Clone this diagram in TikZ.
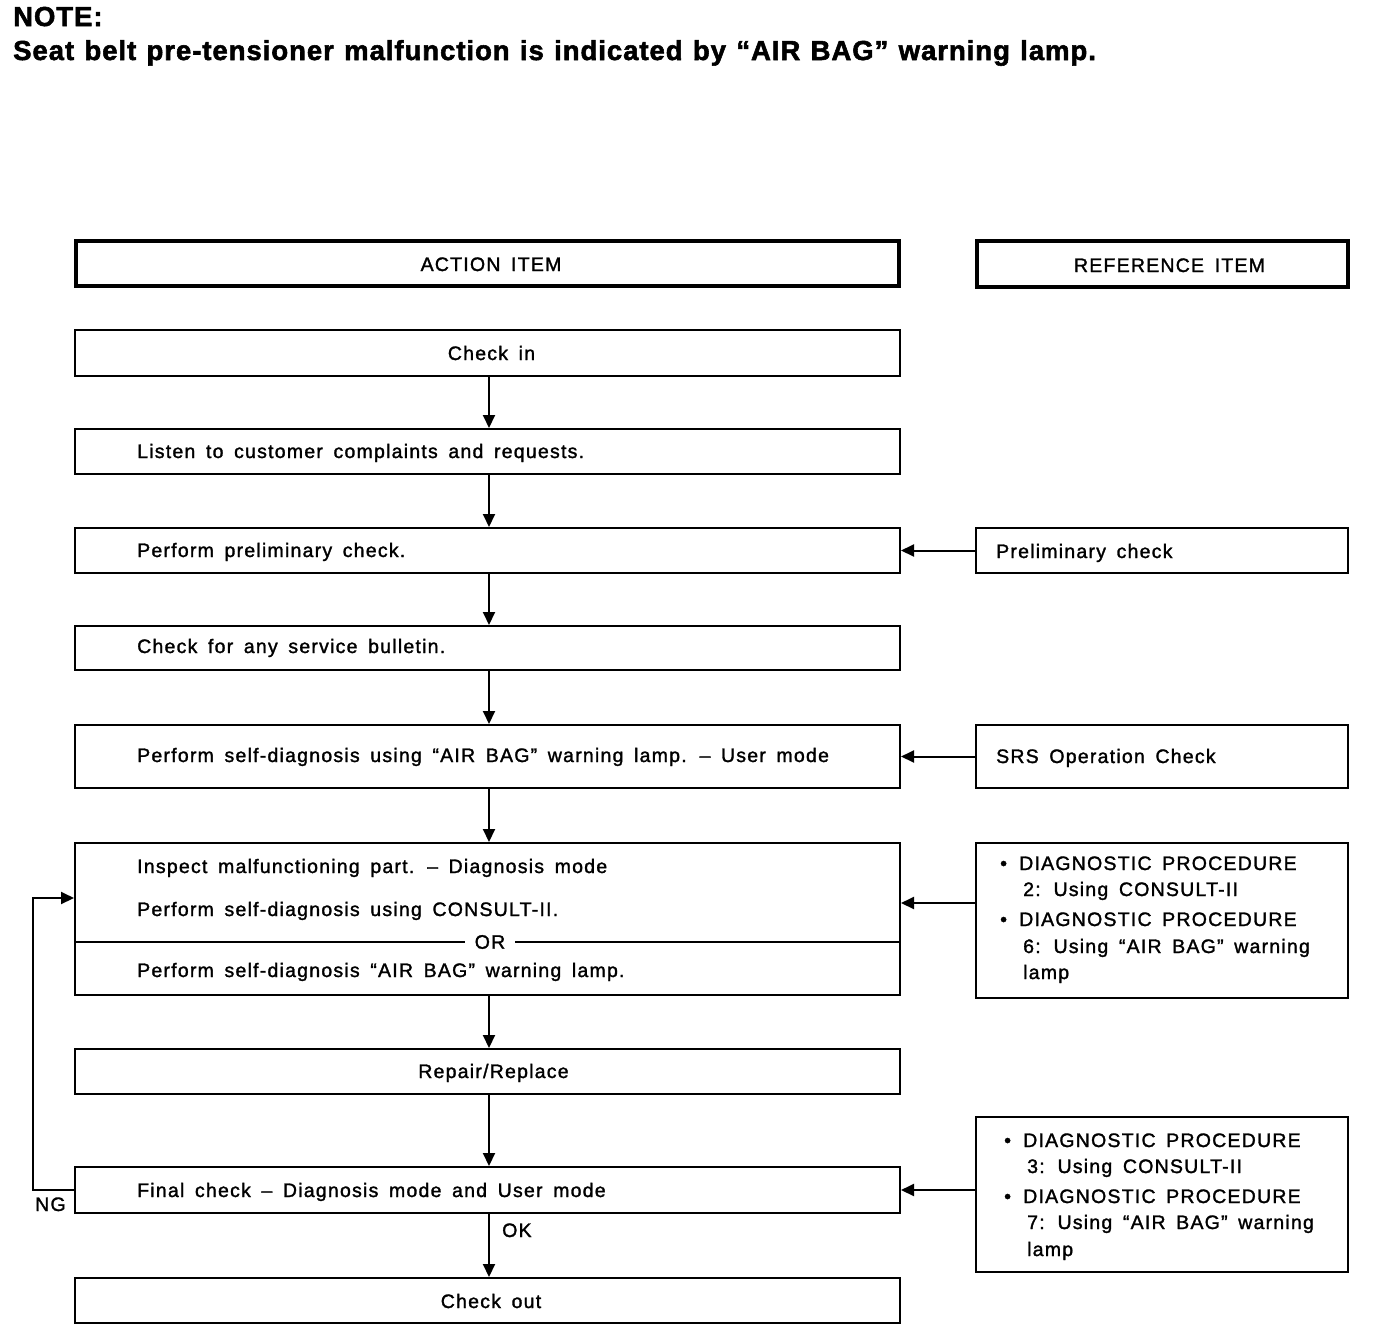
\documentclass[tikz,border=0pt]{standalone}
\usepackage{fontspec}
\setmainfont{Liberation Sans}[LetterSpace=6.3, WordSpace=1.6, FakeBold=1.5]
\newfontfamily\titlefont{Liberation Sans}[LetterSpace=3.5, WordSpace=1.2, FakeBold=2]
\usetikzlibrary{arrows.meta}
\newcommand{\fsz}{\fontsize{19.5}{26.5}\selectfont}
\tikzset{
  box/.style={draw, line width=2pt, inner sep=0pt, minimum width=825pt},
  rbox/.style={draw, line width=2pt, inner sep=0pt, minimum width=372pt},
  hdr/.style={draw, line width=4pt, inner sep=0pt},
  txt/.style={inner sep=0pt, anchor=base west, font=\fsz},
  ctxt/.style={inner sep=0pt, anchor=base, font=\fsz},
  ttl/.style={inner sep=0pt, anchor=base west, font=\titlefont\bfseries\fontsize{27.5}{33}\selectfont},
  arr/.style={line width=2pt, -{Triangle[length=13pt,width=12pt]}},
  every node/.style={font=\fsz}
}
\begin{document}
\begin{tikzpicture}[x=1pt,y=-1pt]
\useasboundingbox (0,0) rectangle (1376,1336);
% title
\node[ttl] (t1) at (13,26) {NOTE:};
\node[ttl] (t2) at (13,60) {Seat belt pre-tensioner malfunction is indicated by “AIR BAG” warning lamp.};
% headers
\node[hdr, minimum width=823pt, minimum height=45pt] (hA) at (487.5,263.5) {};
\node[ctxt] (hAt) at (491,271) {ACTION ITEM};
\node[hdr, minimum width=371pt, minimum height=46pt] (hR) at (1162.5,264) {};
\node[ctxt] (hRt) at (1169.5,272) {REFERENCE ITEM};
% main boxes
\node[box, minimum height=46pt] (checkin) at (487.5,353) {};
\node[ctxt] (checkint) at (491.5,360) {Check in};
\node[box, minimum height=45pt] (listen) at (487.5,451.5) {};
\node[txt] (listent) at (137,458) {Listen to customer complaints and requests.};
\node[box, minimum height=45pt] (prelim) at (487.5,550.5) {};
\node[txt] (prelimt) at (137,557) {Perform preliminary check.};
\node[box, minimum height=44pt] (bull) at (487.5,648) {};
\node[txt] (bullt) at (137,653) {Check for any service bulletin.};
\node[box, minimum height=63pt] (self) at (487.5,756.5) {};
\node[txt] (selft) at (137,762) {Perform self-diagnosis using “AIR BAG” warning lamp. -- User mode};
\node[box, minimum height=152pt] (insp) at (487.5,919) {};
\node[txt] (inspt1) at (137,873) {Inspect malfunctioning part. -- Diagnosis mode};
\node[txt] (inspt2) at (137,916) {Perform self-diagnosis using CONSULT-II.};
\node[inner sep=0pt, inner xsep=10pt] (orl) at (490,942) {OR};
\node[txt] (inspt3) at (137,977) {Perform self-diagnosis “AIR BAG” warning lamp.};
\node[box, minimum height=45pt] (repair) at (487.5,1071.5) {};
\node[ctxt] (repairt) at (493.5,1078) {Repair/Replace};
\node[box, minimum height=46pt] (final) at (487.5,1190) {};
\node[txt] (finalt) at (137,1197) {Final check -- Diagnosis mode and User mode};
\node[box, minimum height=45pt] (out) at (487.5,1300.5) {};
\node[ctxt] (outt) at (491,1308) {Check out};
% reference boxes
\node[rbox, minimum height=45pt] (prelimR) at (1162,550.5) {};
\node[txt] (prelimRt) at (996,558) {Preliminary check};
\node[rbox, minimum height=63pt] (srsR) at (1162,756.5) {};
\node[txt] (srsRt) at (996,763) {SRS Operation Check};
\node[rbox, minimum height=155pt] (d1R) at (1162,920.5) {};
\node[txt] (d1a) at (1000,870) {•};
\node[txt] (d1b) at (1019,870) {DIAGNOSTIC PROCEDURE};
\node[txt] (d1c) at (1023,896) {2: Using CONSULT-II};
\node[txt] (d1d) at (1000,926) {•};
\node[txt] (d1e) at (1019,926) {DIAGNOSTIC PROCEDURE};
\node[txt] (d1f) at (1023,953) {6: Using “AIR BAG” warning};
\node[txt] (d1g) at (1023,979) {lamp};
\node[rbox, minimum height=155pt] (d2R) at (1162,1194.5) {};
\node[txt] (d2a) at (1004,1147) {•};
\node[txt] (d2b) at (1023,1147) {DIAGNOSTIC PROCEDURE};
\node[txt] (d2c) at (1027,1173) {3: Using CONSULT-II};
\node[txt] (d2d) at (1004,1203) {•};
\node[txt] (d2e) at (1023,1203) {DIAGNOSTIC PROCEDURE};
\node[txt] (d2f) at (1027,1229) {7: Using “AIR BAG” warning};
\node[txt] (d2g) at (1027,1256) {lamp};
% OR line
\draw[line width=2pt] (insp.west |- orl) -- (orl.west);
\draw[line width=2pt] (orl.east) -- (insp.east |- orl);
% vertical arrows
\coordinate (ax) at (489,0);
\draw[arr] (checkin.south -| ax) -- (listen.north -| ax);
\draw[arr] (listen.south -| ax) -- (prelim.north -| ax);
\draw[arr] (prelim.south -| ax) -- (bull.north -| ax);
\draw[arr] (bull.south -| ax) -- (self.north -| ax);
\draw[arr] (self.south -| ax) -- (insp.north -| ax);
\draw[arr] (insp.south -| ax) -- (repair.north -| ax);
\draw[arr] (repair.south -| ax) -- (final.north -| ax);
\draw[arr] (final.south -| ax) -- (out.north -| ax);
\node[txt] (ok) at (502,1237) {OK};
% horizontal arrows
\draw[arr] (prelimR.west) -- (prelim.east);
\draw[arr] (srsR.west) -- (self.east);
\coordinate (r1) at (0,903);
\draw[arr] (d1R.west |- r1) -- (insp.east |- r1);
\draw[arr] (d2R.west |- final.east) -- (final.east);
% NG loop
\coordinate (ngc) at (33,898);
\draw[arr] (final.west) -| (ngc) -- (insp.west |- ngc);
\node[txt] (ng) at (35,1211) {NG};
\end{tikzpicture}
\end{document}
